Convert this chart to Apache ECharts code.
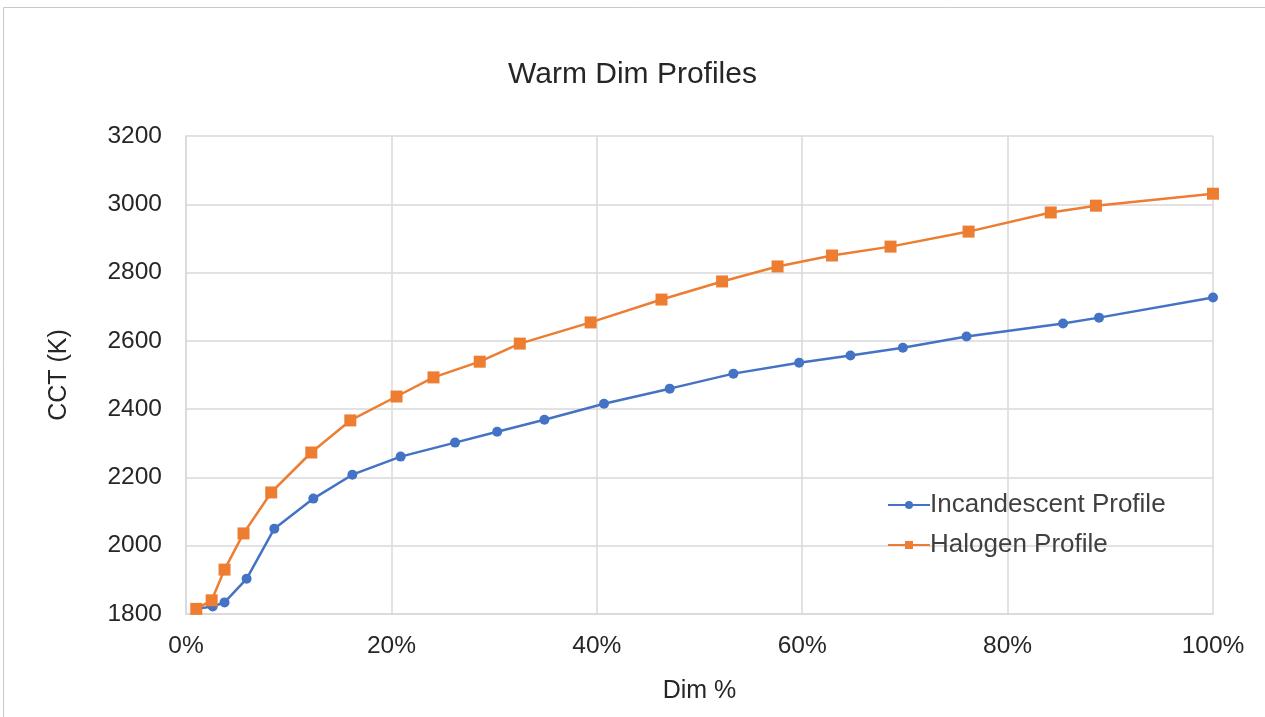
<!DOCTYPE html>
<html><head><meta charset="utf-8">
<script src="https://cdn.jsdelivr.net/npm/echarts@6/dist/echarts.min.js"></script>
<style>html,body{margin:0;padding:0;background:#fff}#c{width:1265px;height:717px}</style>
</head><body><div id="c"></div>
<script>
const incX = [1.0, 2.6, 3.75, 5.9, 8.6, 12.4, 16.2, 20.9, 26.2, 30.3, 34.9, 40.7, 47.1, 53.3, 59.7, 64.7, 69.8, 76.0, 85.4, 88.9, 100];
const incY = [1815, 1822, 1834, 1903, 2050, 2138, 2208, 2261, 2302, 2334, 2369, 2416, 2460, 2504, 2536, 2557, 2580, 2613, 2651, 2668, 2727];
const halX = [1.0, 2.5, 3.75, 5.6, 8.3, 12.2, 16.0, 20.5, 24.1, 28.6, 32.5, 39.4, 46.3, 52.2, 57.6, 62.9, 68.6, 76.2, 84.2, 88.6, 100];
const halY = [1815, 1840, 1930, 2036, 2156, 2273, 2367, 2437, 2493, 2539, 2592, 2654, 2721, 2774, 2818, 2850, 2876, 2920, 2976, 2996, 3031];
const seriesNames = ['Incandescent Profile', 'Halogen Profile'];
const titleText = 'Warm Dim Profiles';
const xName = 'Dim %';
const yName = 'CCT (K)';

const font = 'Liberation Sans, Arial, sans-serif';
const chart = echarts.init(document.getElementById('c'));
const zip = (a, b) => a.map((v, i) => [v, b[i]]);
chart.setOption({
  animation: false,
  backgroundColor: '#fff',
  graphic: [{type: 'rect', shape: {x: 3.5, y: 7.5, width: 1270, height: 720}, style: {fill: 'none', stroke: '#c8c8c8', lineWidth: 1}}],
  title: {text: titleText, left: 'center', top: 55, textStyle: {fontFamily: font, fontSize: 30, fontWeight: 'normal', color: '#262626'}},
  grid: {left: 186, right: 52, top: 136, bottom: 103},
  legend: {
    orient: 'vertical', left: 882, top: 487, itemGap: 14, itemWidth: 42, itemHeight: 10,
    textStyle: {fontFamily: font, fontSize: 26, color: '#404040', padding: [0, 0, 0, -5]},
    data: seriesNames
  },
  xAxis: {
    type: 'value', min: 0, max: 100, interval: 20,
    name: xName, nameLocation: 'middle', nameGap: 65,
    nameTextStyle: {fontFamily: font, fontSize: 25, color: '#262626'},
    axisLabel: {formatter: '{value}%', fontFamily: font, fontSize: 24.5, color: '#262626', margin: 20},
    axisLine: {show: true, lineStyle: {color: '#d9d9d9', width: 1.5}},
    axisTick: {show: false},
    splitLine: {show: true, lineStyle: {color: '#d9d9d9', width: 1.5}}
  },
  yAxis: {
    type: 'value', min: 1800, max: 3200, interval: 200,
    name: yName, nameLocation: 'middle', nameGap: 114, nameRotate: 90,
    nameTextStyle: {fontFamily: font, fontSize: 25, color: '#262626'},
    axisLabel: {formatter: v => String(v), fontFamily: font, fontSize: 24.5, color: '#262626', margin: 24},
    axisLine: {show: true, lineStyle: {color: '#d9d9d9', width: 1.5}},
    axisTick: {show: false},
    splitLine: {show: true, lineStyle: {color: '#d9d9d9', width: 1.5}}
  },
  series: [
    {name: seriesNames[0], type: 'line', data: zip(incX, incY), symbol: 'circle', symbolSize: 10,
     lineStyle: {color: '#4472C4', width: 2.5}, itemStyle: {color: '#4472C4'}, z: 2},
    {name: seriesNames[1], type: 'line', data: zip(halX, halY), symbol: 'rect', symbolSize: 12,
     lineStyle: {color: '#ED7D31', width: 2.5}, itemStyle: {color: '#ED7D31'}, z: 3}
  ]
});
</script></body></html>
